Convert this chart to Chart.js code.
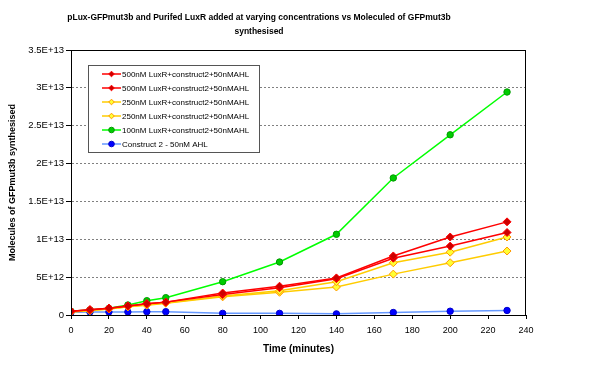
<!DOCTYPE html>
<html>
<head>
<meta charset="utf-8">
<script src="https://cdn.jsdelivr.net/npm/chart.js@4.4.1/dist/chart.umd.min.js"></script>
<style>
  html, body { margin: 0; padding: 0; background: #fff; }
  #wrap { width: 600px; height: 368px; }
</style>
</head>
<body>
<div id="wrap"><canvas id="c" width="600" height="368"></canvas></div>
<script>
// time points (minutes)
var times = [0, 10, 20, 30, 40, 50, 80, 110, 140, 170, 200, 230];

// molecules of GFPmut3b synthesised
var red_a = [5.0e11, 7.0e11, 9.0e11, 1.2e12, 1.5e12, 1.7e12, 2.9e12, 3.8e12, 4.9e12, 7.8e12, 1.03e13, 1.23e13];
var red_b = [5.0e11, 7.0e11, 9.0e11, 1.2e12, 1.5e12, 1.7e12, 2.7e12, 3.6e12, 4.8e12, 7.5e12, 9.1e12, 1.09e13];
var yellow_a = [4.0e11, 6.0e11, 8.0e11, 1.1e12, 1.4e12, 1.6e12, 2.5e12, 3.2e12, 4.4e12, 6.9e12, 8.3e12, 1.03e13];
var yellow_b = [4.0e11, 6.0e11, 8.0e11, 1.1e12, 1.3e12, 1.55e12, 2.4e12, 3.0e12, 3.7e12, 5.4e12, 6.9e12, 8.45e12];
var green = [5.0e11, 6.6e11, 8.8e11, 1.32e12, 1.89e12, 2.29e12, 4.4e12, 7.0e12, 1.066e13, 1.81e13, 2.38e13, 2.945e13];
var blue = [3.6e11, 4.0e11, 4.0e11, 4.0e11, 4.4e11, 4.4e11, 2.2e11, 2.2e11, 1.5e11, 3.3e11, 5.0e11, 6.0e11];

var labels = [
    '500nM LuxR+construct2+50nMAHL',
    '500nM LuxR+construct2+50nMAHL',
    '250nM LuxR+construct2+50nMAHL',
    '250nM LuxR+construct2+50nMAHL',
    '100nM LuxR+construct2+50nMAHL',
    'Construct 2 - 50nM AHL'
];

var title_lines = [
    'pLux-GFPmut3b and Purifed LuxR added at varying concentrations vs Moleculed of GFPmut3b',
    'synthesised'
];

var FONT = "'Liberation Sans', Arial, sans-serif";

function pts(values) {
    return values.map(function (v, i) { return { x: times[i], y: v }; });
}

function make_ds(label, values, line, fill, edge, style, radius) {
    return {
        label: label,
        data: pts(values),
        borderColor: line,
        borderWidth: 1.5,
        backgroundColor: fill,
        pointBackgroundColor: fill,
        pointBorderColor: edge,
        pointBorderWidth: 1,
        pointStyle: style,
        pointRadius: radius,
        pointHoverRadius: radius,
        tension: 0,
        fill: false
    };
}

// excel style tick labels: 3.5E+13, 5E+12, 0
function excel_exp(v) {
    if (v === 0) return '0';
    var e = Math.floor(Math.log10(v));
    var m = Math.round(v / Math.pow(10, e) * 10) / 10;
    return m + 'E+' + e;
}

// title, plot frame and in-plot legend
var decor = {
    id: 'decor',
    afterDatasetsDraw: function (chart) {
        var ctx = chart.ctx;
        var a = chart.chartArea;
        ctx.save();
        ctx.strokeStyle = '#000';
        ctx.lineWidth = 1;
        ctx.strokeRect(Math.round(a.left) + 0.5, Math.round(a.top) + 0.5,
            Math.round(a.right - a.left) - 1, Math.round(a.bottom - a.top));

        // legend box
        var bx = 88, by = 65, bw = 171, bh = 87;
        ctx.fillStyle = '#fff';
        ctx.fillRect(bx, by, bw, bh);
        ctx.strokeStyle = '#555';
        ctx.strokeRect(bx + 0.5, by + 0.5, bw, bh);
        ctx.font = '8px ' + FONT;
        ctx.textBaseline = 'middle';
        ctx.textAlign = 'left';
        chart.data.datasets.forEach(function (ds, i) {
            var y = 74 + i * 14;
            ctx.strokeStyle = ds.borderColor;
            ctx.lineWidth = 1.5;
            ctx.beginPath();
            ctx.moveTo(102, y);
            ctx.lineTo(121, y);
            ctx.stroke();
            ctx.fillStyle = ds.pointBackgroundColor;
            ctx.strokeStyle = ds.pointBorderColor;
            ctx.lineWidth = 1;
            Chart.helpers.drawPoint(ctx, { pointStyle: ds.pointStyle, radius: 2.8, borderWidth: 1, rotation: 0 }, 111.5, y);
            ctx.fillStyle = '#000';
            ctx.fillText(ds.label, 122, y + 0.5);
        });

        // title
        ctx.fillStyle = '#000';
        ctx.textAlign = 'center';
        ctx.font = 'bold 8.5px ' + FONT;
        title_lines.forEach(function (t, i) {
            ctx.fillText(t, 259, 18 + i * 14);
        });
        ctx.restore();
    }
};

var chart = new Chart(document.getElementById('c'), {
    type: 'line',
    data: {
        datasets: [
            make_ds(labels[0], red_a, '#FF0000', '#CC0000', '#FF0000', 'rectRot', 4),
            make_ds(labels[1], red_b, '#FF0000', '#CC0000', '#FF0000', 'rectRot', 4),
            make_ds(labels[2], yellow_a, '#FFCC00', '#FFFF33', '#FF9900', 'rectRot', 4),
            make_ds(labels[3], yellow_b, '#FFCC00', '#FFFF33', '#FF9900', 'rectRot', 4),
            make_ds(labels[4], green, '#00FF00', '#00CC00', '#009900', 'circle', 3.2),
            make_ds(labels[5], blue, '#6699FF', '#0000FF', '#0000CC', 'circle', 3.2)
        ]
    },
    plugins: [decor],
    options: {
        responsive: false,
        animation: false,
        devicePixelRatio: 1,
        layout: { padding: { top: 50, right: 74, left: 0, bottom: 0 } },
        plugins: {
            legend: { display: false },
            title: { display: false },
            tooltip: { enabled: false }
        },
        scales: {
            x: {
                type: 'linear',
                min: 0,
                max: 240,
                afterFit: function (s) { s.height = 53; },
                ticks: {
                    stepSize: 20,
                    color: '#000',
                    padding: 6,
                    maxRotation: 0,
                    font: { family: FONT, size: 9 }
                },
                grid: {
                    drawOnChartArea: false,
                    tickLength: 4,
                    tickColor: '#000'
                },
                border: { color: '#000', width: 1 },
                title: {
                    display: true,
                    text: 'Time (minutes)',
                    color: '#000',
                    font: { family: FONT, size: 10, weight: 'bold' },
                    padding: { top: 0, bottom: 13 }
                }
            },
            y: {
                min: 0,
                max: 3.5e13,
                afterFit: function (s) { s.width = 71; },
                ticks: {
                    stepSize: 5e12,
                    color: '#000',
                    padding: 2,
                    font: { family: FONT, size: 9.5 },
                    callback: function (v) { return excel_exp(v); }
                },
                grid: {
                    color: '#808080',
                    tickLength: 5,
                    tickColor: '#000',
                    tickBorderDash: []
                },
                border: { color: '#000', width: 1, dash: [2, 2] },
                title: {
                    display: true,
                    text: 'Molecules of GFPmut3b synthesised',
                    color: '#000',
                    font: { family: FONT, size: 9, weight: 'bold' },
                    padding: { top: 7, bottom: 0 }
                }
            }
        }
    }
});
</script>
</body>
</html>
